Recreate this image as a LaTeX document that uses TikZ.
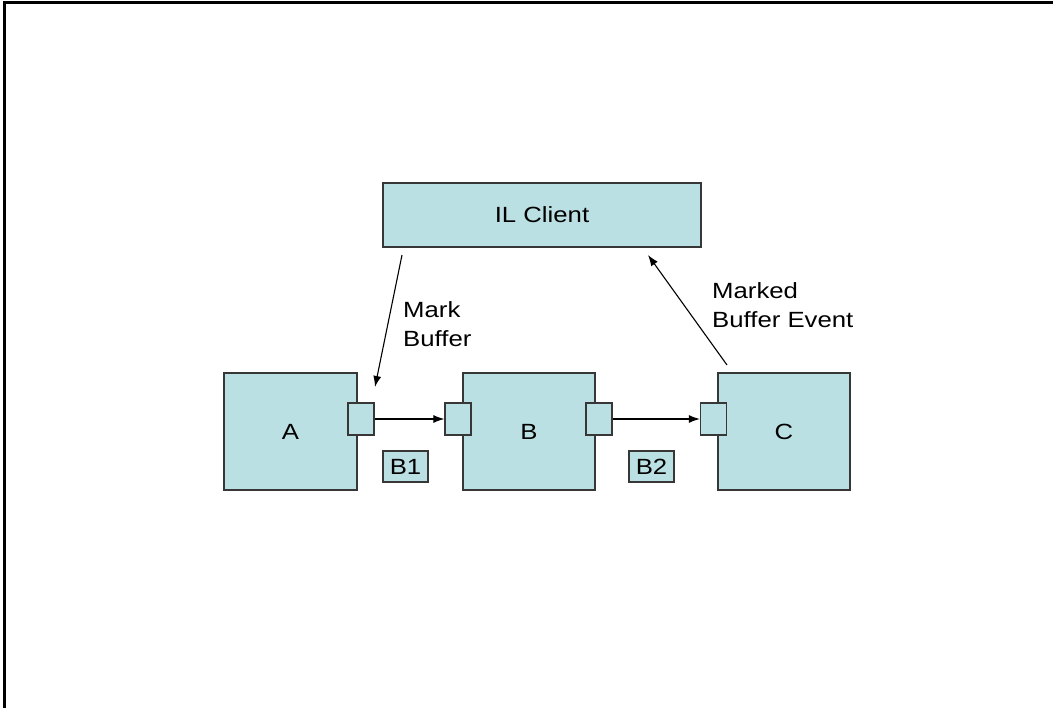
\documentclass[tikz,border=0pt]{standalone}
\usepackage{fontspec}
\setmainfont{Liberation Sans}[FakeStretch=1.17]
\usetikzlibrary{arrows.meta}
\definecolor{boxfill}{RGB}{187,224,227}
\definecolor{boxline}{RGB}{55,55,55}
\tikzset{
  box/.style={draw=boxline, fill=boxfill, line width=1.3bp, inner sep=0pt, rectangle},
  arr/.style={draw=black, line width=1.1bp, -{Latex[length=11bp,width=8bp]}},
  lbl/.style={align=left, anchor=north west, inner sep=0pt},
}
\begin{document}
\begin{tikzpicture}[x=1bp,y=-1bp, font=\fontsize{22bp}{29bp}\selectfont]
\useasboundingbox (0,0) rectangle (1053,708);
% frame
\draw[line width=3bp] (4,708) -- (4,3) -- (1053,3);
% main boxes
\node[box, minimum width=318bp, minimum height=64bp] (il) at (542,215) {IL Client};
\node[box, minimum width=133bp, minimum height=117bp] (A) at (290.5,431.5) {A};
\node[box, minimum width=132bp, minimum height=117bp] (B) at (529,431.5) {B};
\node[box, minimum width=132bp, minimum height=117bp] (C) at (784,431.5) {C};
% ports
\node[box, minimum width=26bp, minimum height=32bp] (pA) at (361,419) {};
\node[box, minimum width=26bp, minimum height=32bp] (pBi) at (458,419) {};
\node[box, minimum width=26bp, minimum height=32bp] (pBo) at (599,419) {};
\node[box, minimum width=26bp, minimum height=32bp] (pC) at (713.5,419) {};
% buffers
\node[box, minimum width=45bp, minimum height=31bp] (b1) at (405.5,466.5) {B1};
\node[box, minimum width=45bp, minimum height=31bp] (b2) at (651.5,466.5) {B2};
% connectors
\draw[arr] (pA.east) -- (pBi.west);
\draw[arr] (pBo.east) -- (pC.west);
\coordinate (mbS) at (402,255);
\coordinate (mbE) at (375,387);
\coordinate (meS) at (727,365);
\coordinate (meE) at (648,255);
\draw[arr] (mbS) -- (mbE);
\draw[arr] (meS) -- (meE);
% labels
\node[lbl] (lmb) at (403,301) {Mark\\Buffer};
\node[lbl] (lme) at (712,282) {Marked\\Buffer Event};
\end{tikzpicture}
\end{document}
